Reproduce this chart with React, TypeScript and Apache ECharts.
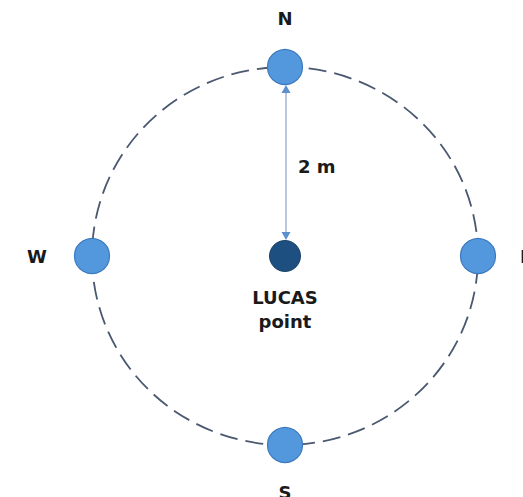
import React, { useEffect, useRef } from "react";
import * as echarts from "echarts";

// ---- data ----
const radiusM = 2;
const compassNames = ["N", "E", "S", "W"];
const compassX = [0, radiusM, 0, -radiusM];
const compassY = [radiusM, 0, -radiusM, 0];
const centerPoint = [0, 0];
const centerLabel = "LUCAS\npoint";
const distanceLabel = "2 m";

const FONT = "DejaVu Sans, Verdana, sans-serif";

export default function App() {
  const ref = useRef<HTMLDivElement>(null);
  useEffect(() => {
    if (!ref.current) return;
    const chart = echarts.init(ref.current, null, { renderer: "svg" });

    const labelPos: Record<string, { position: string; distance: number }> = {
      N: { position: "top", distance: 21 },
      E: { position: "right", distance: 24 },
      S: { position: "bottom", distance: 20 },
      W: { position: "left", distance: 27 },
    };

    const compassData = compassNames.map((n, i) => ({
      name: n,
      value: [compassX[i], compassY[i]],
      label: {
        show: true,
        formatter: n,
        position: labelPos[n].position,
        distance: labelPos[n].distance,
        fontFamily: FONT,
        fontSize: 18,
        fontWeight: "bold",
        color: "#1a1a1a",
      },
    }));

    chart.setOption({
      animation: false,
      backgroundColor: "#ffffff",
      grid: { left: 92, top: 67, width: 386, height: 378 },
      xAxis: { type: "value", min: -radiusM, max: radiusM, show: false },
      yAxis: { type: "value", min: -radiusM, max: radiusM, show: false },
      series: [
        {
          type: "custom",
          z: 1,
          silent: true,
          data: [centerPoint],
          renderItem: (params: any, api: any) => {
            const c = api.coord([api.value(0), api.value(1)]);
            const s = api.size([radiusM, radiusM]);
            const rx = s[0];
            const ry = s[1];
            const d = `M ${c[0] - rx} ${c[1]} A ${rx} ${ry} 0 1 0 ${c[0] + rx} ${c[1]} A ${rx} ${ry} 0 1 0 ${c[0] - rx} ${c[1]} Z`;
            return {
              type: "path",
              shape: { pathData: d },
              style: {
                fill: "none",
                stroke: "#4a5870",
                lineWidth: 1.8,
                lineDash: [18, 8],
              },
            };
          },
        },
        {
          type: "custom",
          z: 2,
          silent: true,
          data: [[0, 0, radiusM]],
          renderItem: (params: any, api: any) => {
            const p0 = api.coord([api.value(0), api.value(1)]);
            const p1 = api.coord([api.value(0), api.value(2)]);
            const pm = api.coord([api.value(0), api.value(2) / 2]);
            const x = p0[0] + 1;
            const yBottom = p0[1] - 16;
            const yTop = p1[1] + 18;
            const head = 6;
            const hw = 4.5;
            return {
              type: "group",
              children: [
                {
                  type: "line",
                  shape: { x1: x, y1: yBottom - head + 1, x2: x, y2: yTop + head - 1 },
                  style: { stroke: "#a9b7d6", lineWidth: 1.6 },
                },
                {
                  type: "polygon",
                  shape: { points: [[x, yTop], [x - hw, yTop + head + 2], [x + hw, yTop + head + 2]] },
                  style: { fill: "#5b8fcf" },
                },
                {
                  type: "polygon",
                  shape: { points: [[x, yBottom], [x - hw, yBottom - head - 2], [x + hw, yBottom - head - 2]] },
                  style: { fill: "#5b8fcf" },
                },
                {
                  type: "text",
                  style: {
                    text: distanceLabel,
                    x: x + 12,
                    y: pm[1] + 5,
                    fill: "#1a1a1a",
                    fontFamily: FONT,
                    fontSize: 18,
                    fontWeight: "bold",
                    align: "left",
                    verticalAlign: "middle",
                  },
                },
              ],
            };
          },
        },
        {
          type: "scatter",
          z: 3,
          clip: false,
          symbol: "circle",
          symbolSize: 35,
          itemStyle: { color: "#5398dc", borderColor: "#3b78bf", borderWidth: 1.2, opacity: 1 },
          data: compassData,
        },
        {
          type: "scatter",
          z: 3,
          clip: false,
          symbol: "circle",
          symbolSize: 31,
          itemStyle: { color: "#1d5080", borderColor: "#173f66", borderWidth: 1, opacity: 1 },
          label: {
            show: true,
            position: "bottom",
            distance: 13,
            formatter: centerLabel,
            fontFamily: FONT,
            fontSize: 18,
            fontWeight: "bold",
            lineHeight: 24,
            color: "#1a1a1a",
            align: "center",
          },
          data: [centerPoint],
        },
      ],
    });
    return () => chart.dispose();
  }, []);
  return (
    <div
      ref={ref}
      style={{ position: "absolute", left: 0, top: 0, width: 523, height: 497, background: "#fff" }}
    />
  );
}
